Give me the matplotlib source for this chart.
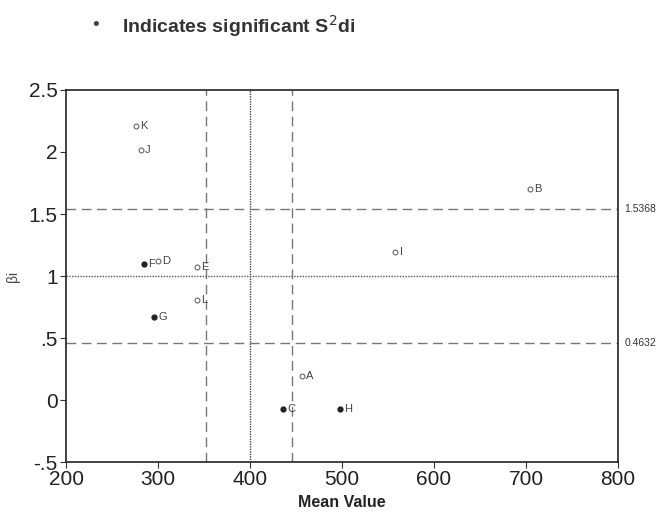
import matplotlib
matplotlib.use("Agg")
import matplotlib.pyplot as plt

plt.rcParams['font.family'] = ['Liberation Sans', 'DejaVu Sans']

labels = ["A", "B", "C", "D", "E", "F", "G", "H", "I", "J", "K", "L"]
mean_value = [456, 704, 436, 300, 342, 285, 296, 498, 558, 281, 276, 342]
bi = [0.19, 1.70, -0.07, 1.12, 1.07, 1.10, 0.67, -0.07, 1.19, 2.02, 2.21, 0.81]
significant = [False, False, True, False, False, True, True, True, False, False, False, False]

grand_mean = 400
mean_lo, mean_hi = 352, 446
bi_mean = 1.0
bi_lo, bi_hi = 0.4632, 1.5368

xticks = [200, 300, 400, 500, 600, 700, 800]
yticks = [-0.5, 0, 0.5, 1, 1.5, 2, 2.5]
ytick_labels = ["-.5", "0", ".5", "1", "1.5", "2", "2.5"]

fig = plt.figure(figsize=(6.62, 5.19), dpi=100)
ax = fig.add_axes([0.0997, 0.1098, 0.8338, 0.7168])

ax.axvline(mean_lo, color="#777777", ls=(0, (7, 4)), lw=1)
ax.axvline(mean_hi, color="#777777", ls=(0, (7, 4)), lw=1)
ax.axvline(grand_mean, color="#444444", ls=(0, (1, 0.8)), lw=1)
ax.axhline(bi_hi, color="#777777", ls=(0, (7, 4)), lw=1)
ax.axhline(bi_lo, color="#777777", ls=(0, (7, 4)), lw=1)
ax.axhline(bi_mean, color="#555555", ls=(0, (1, 1)), lw=1)

for lab, x, y, s in zip(labels, mean_value, bi, significant):
    if s:
        ax.plot(x, y, "o", ms=3.5, mfc="#222222", mec="#222222")
    else:
        ax.plot(x, y, "o", ms=3.5, mfc="white", mec="#666666", mew=0.8)
    ax.annotate(lab, (x, y), xytext=(3, 0), textcoords="offset points",
                ha="left", va="center", fontsize=8, color="#444444")

ax.set_xlim(200, 800)
ax.set_ylim(-0.5, 2.5)
ax.set_xticks(xticks)
ax.set_xticklabels([str(v) for v in xticks])
ax.set_yticks(yticks)
ax.set_yticklabels(ytick_labels)
ax.tick_params(labelsize=15, length=4, direction="out", color="#333333", pad=2)
for lbl in ax.get_xticklabels() + ax.get_yticklabels():
    lbl.set_color("#222222")
for sp in ax.spines.values():
    sp.set_color("#222222")
    sp.set_linewidth(1.2)

ax.set_xlabel("Mean Value", fontsize=11.5, fontweight="bold", color="#222222", labelpad=4)
ax.set_ylabel("βi", fontsize=10, color="#444444", labelpad=6)

ax.text(1.012, bi_hi, "1.5368", transform=ax.get_yaxis_transform(), va="center", ha="left", fontsize=7.5, color="#333333")
ax.text(1.012, bi_lo, "0.4632", transform=ax.get_yaxis_transform(), va="center", ha="left", fontsize=7.5, color="#333333")

fig.text(0.145, 0.95, "•", fontsize=14, color="#444444", va="center", ha="center")
fig.text(0.185, 0.95, "Indicates significant S$^2$di", fontsize=14, fontweight="bold", color="#333333", va="center", ha="left")

fig.savefig("out.png", dpi=100)
